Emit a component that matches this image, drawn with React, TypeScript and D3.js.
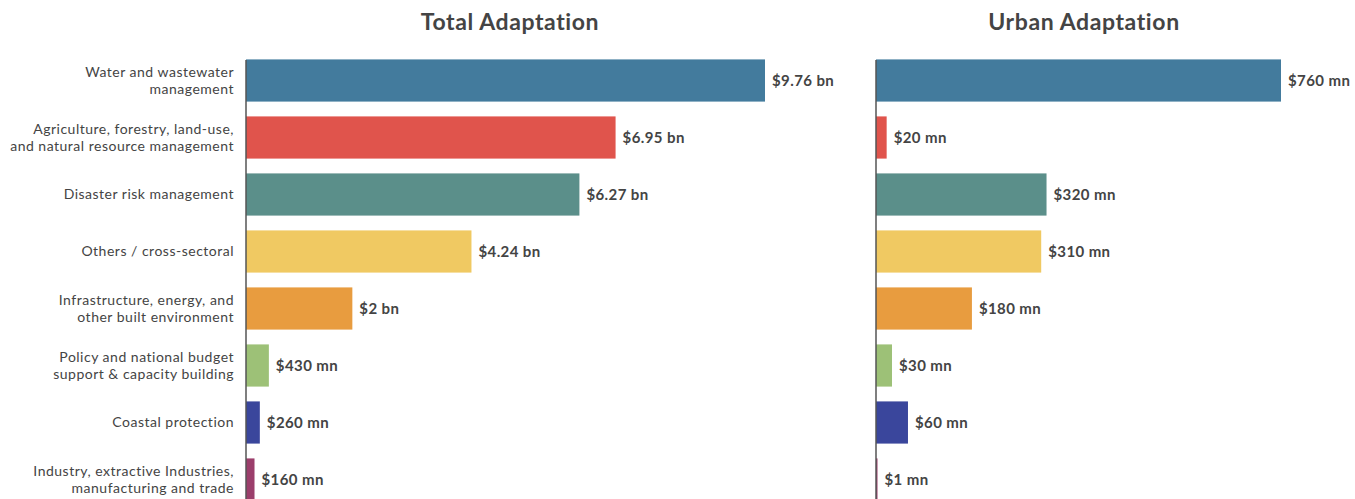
import React from "react";
import * as d3 from "d3";

const categories: string[][] = [
  ["Water and wastewater", "management"],
  ["Agriculture, forestry, land-use,", "and natural resource management"],
  ["Disaster risk management"],
  ["Others / cross-sectoral"],
  ["Infrastructure, energy, and", "other built environment"],
  ["Policy and national budget", "support & capacity building"],
  ["Coastal protection"],
  ["Industry, extractive Industries,", "manufacturing and trade"],
];
const totalValues = [9760, 6950, 6270, 4240, 2000, 430, 260, 160]; // $ mn
const totalLabels = ["$9.76 bn", "$6.95 bn", "$6.27 bn", "$4.24 bn", "$2 bn", "$430 mn", "$260 mn", "$160 mn"];
const urbanValues = [760, 20, 320, 310, 180, 30, 60, 1]; // $ mn
const urbanLabels = ["$760 mn", "$20 mn", "$320 mn", "$310 mn", "$180 mn", "$30 mn", "$60 mn", "$1 mn"];
const colors = ["#437b9d", "#e0544c", "#5b8f8a", "#f0c962", "#e89c3f", "#9dc177", "#3a469c", "#9b3e6b"];

const W = 1355;
const H = 499;
const FONT = "Lato, 'Open Sans', sans-serif";
const TXT = "#444";

export default function App() {
  const idx = categories.map((_, i) => i);
  const y = d3.scaleBand<number>().domain(idx).range([52, 52 + 57 * 8]).paddingInner(0.26).paddingOuter(0.13);
  const xT = d3.scaleLinear().domain([0, 9760]).range([246, 765]);
  const xU = d3.scaleLinear().domain([0, 760]).range([876, 1281]);

  const panel = (x: d3.ScaleLinear<number, number>, values: number[], labels: string[]) => (
    <g>
      {values.map((v, i) => (
        <rect key={i} x={x(0)} y={y(i)} width={Math.max(1.5, x(v) - x(0))} height={y.bandwidth()} fill={colors[i]} />
      ))}
      {values.map((v, i) => (
        <text key={"t" + i} x={Math.max(x(v), x(0) + 1.5) + 7} y={(y(i) as number) + y.bandwidth() / 2} dy="0.35em"
          fontSize={15} fontWeight={700} letterSpacing={0.4} fill={TXT} fontFamily={FONT}>
          {labels[i]}
        </text>
      ))}
      <line x1={x(0)} x2={x(0)} y1={60} y2={H} stroke="#555" strokeWidth={1.5} />
    </g>
  );

  return (
    <svg width={W} height={H} style={{ position: "absolute", left: 0, top: 0, background: "#fff" }}>
      <text x={510} y={30} textAnchor="middle" fontSize={23} fontWeight={700} letterSpacing={0.6} fill={TXT} fontFamily={FONT}>Total Adaptation</text>
      <text x={1084} y={30} textAnchor="middle" fontSize={23} fontWeight={700} letterSpacing={0.6} fill={TXT} fontFamily={FONT}>Urban Adaptation</text>
      {categories.map((lines, i) => {
        const cy = (y(i) as number) + y.bandwidth() / 2;
        const lh = 17.5;
        const start = cy - ((lines.length - 1) * lh) / 2;
        return (
          <text key={i} textAnchor="end" fontSize={14} letterSpacing={0.5} fill={TXT} fontFamily={FONT}>
            {lines.map((l, j) => (
              <tspan key={j} x={234} y={start + j * lh} dy="0.35em">{l}</tspan>
            ))}
          </text>
        );
      })}
      {panel(xT, totalValues, totalLabels)}
      {panel(xU, urbanValues, urbanLabels)}
    </svg>
  );
}
